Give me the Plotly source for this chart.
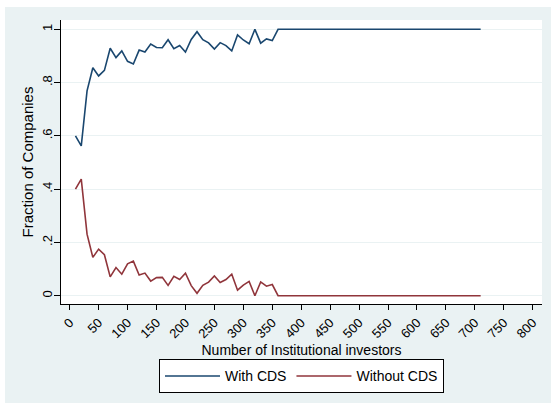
import plotly.graph_objects as go

# Number of institutional investors (bin midpoints)
investors = list(range(10, 720, 10))

# Share of companies with CDS contracts in each bin
with_cds = [
    0.600, 0.5625, 0.769, 0.856, 0.825, 0.846, 0.929, 0.894, 0.919, 0.880,
    0.870, 0.922, 0.915, 0.945, 0.932, 0.931, 0.961, 0.927, 0.939, 0.915,
    0.962, 0.991, 0.961, 0.949, 0.926, 0.950, 0.939, 0.919, 0.979, 0.960,
    0.946, 1.000, 0.948, 0.964, 0.958,
] + [1.0] * 36

# Share of companies without CDS contracts in each bin
without_cds = [
    0.400, 0.4375, 0.231, 0.144, 0.175, 0.154, 0.071, 0.106, 0.081, 0.120,
    0.130, 0.078, 0.085, 0.055, 0.068, 0.069, 0.039, 0.073, 0.061, 0.085,
    0.038, 0.009, 0.039, 0.051, 0.074, 0.050, 0.061, 0.081, 0.021, 0.040,
    0.054, 0.000, 0.052, 0.036, 0.042,
] + [0.0] * 36

x_ticks = list(range(0, 801, 50))
y_ticks = [0, 0.2, 0.4, 0.6, 0.8, 1]
y_tick_text = ["0", ".2", ".4", ".6", ".8", "1"]

FONT = "Arial, Liberation Sans, sans-serif"
BG = "#EAF2F3"

fig = go.Figure()
fig.add_trace(go.Scatter(x=investors, y=with_cds, mode="lines", name="With CDS",
                         line=dict(color="#1a476f", width=1.6)))
fig.add_trace(go.Scatter(x=investors, y=without_cds, mode="lines", name="Without CDS",
                         line=dict(color="#90353b", width=1.6)))

fig.update_layout(
    width=551, height=403,
    margin=dict(l=61, r=9, t=20, b=99),
    paper_bgcolor=BG,
    plot_bgcolor="white",
    font=dict(family=FONT, size=13, color="black"),
    showlegend=True,
    legend=dict(
        orientation="h", x=0.5, xanchor="center", y=-0.195, yanchor="top",
        bgcolor="white", bordercolor="black", borderwidth=1,
        font=dict(family=FONT, size=14, color="black"),
        itemwidth=55, tracegroupgap=0,
    ),
    xaxis=dict(
        range=[-15, 816], tickmode="array", tickvals=x_ticks,
        tickangle=-45, ticks="outside", ticklen=5, tickcolor="black",
        tickfont=dict(size=13), showgrid=False, zeroline=False,
        showline=True, linecolor="black", linewidth=1,
        title=dict(text="Number of Institutional investors",
                   font=dict(size=14), standoff=5),
    ),
    yaxis=dict(
        range=[-0.031, 1.035], tickmode="array", tickvals=y_ticks,
        ticktext=y_tick_text, tickangle=-90, ticks="outside", ticklen=6,
        tickcolor="black", tickfont=dict(size=13), ticklabelstandoff=-3,
        showgrid=True, gridcolor=BG, gridwidth=1, zeroline=False,
        showline=True, linecolor="black", linewidth=1,
        title=dict(text="Fraction of Companies", font=dict(size=15), standoff=2),
    ),
    shapes=[
        dict(type="rect", xref="paper", yref="paper", x0=-61 / 481, x1=-56 / 481,
             y0=-99 / 284, y1=1 + 20 / 284, fillcolor="white", line=dict(width=0),
             layer="below"),
        dict(type="rect", xref="paper", yref="paper", x0=-61 / 481, x1=1 + 9 / 481,
             y0=1 + 13 / 284, y1=1 + 20 / 284, fillcolor="white", line=dict(width=0),
             layer="below"),
    ],
)

fig.write_html("out.html")
